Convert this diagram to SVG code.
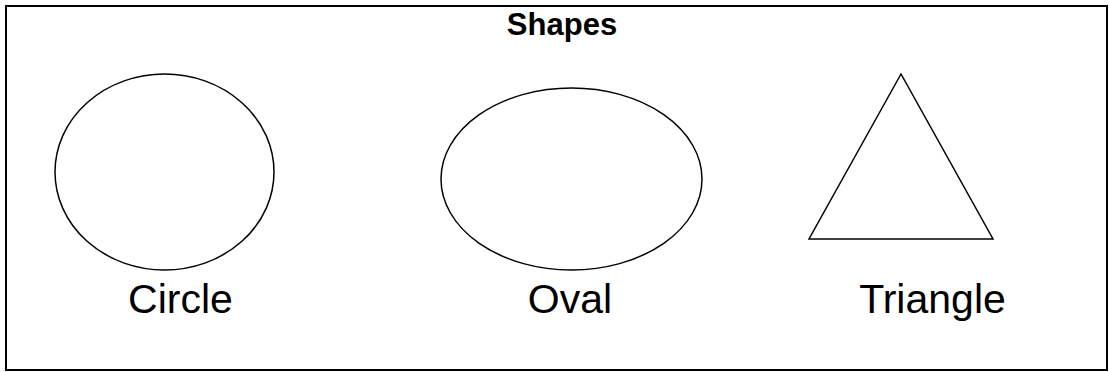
<svg xmlns="http://www.w3.org/2000/svg" width="1109" height="372" viewBox="0 0 1109 372">
<style>
.shape{fill:#fff;stroke:#000;stroke-width:1.5}
.lbl{font-family:"Liberation Sans",Arial,sans-serif;font-size:41px;fill:#000;text-anchor:middle}
.title{font-family:"Liberation Sans",Arial,sans-serif;font-size:31px;font-weight:bold;fill:#000;text-anchor:middle}
</style>
<rect x="0" y="0" width="1109" height="372" fill="#fff"/>
<rect x="6" y="6" width="1101" height="364" fill="none" stroke="#000" stroke-width="2"/>
<text class="title" x="562" y="35">Shapes</text>
<g id="circle">
<ellipse class="shape" cx="164.5" cy="172" rx="109.5" ry="98"/>
<text class="lbl" x="180.5" y="313">Circle</text>
</g>
<g id="oval">
<ellipse class="shape" cx="571.5" cy="179" rx="130.5" ry="91"/>
<text class="lbl" x="570" y="313">Oval</text>
</g>
<g id="triangle">
<polygon class="shape" points="901,74 809,239 993,239"/>
<text class="lbl" x="932.5" y="313">Triangle</text>
</g>
<g id="connectors"/>
</svg>
